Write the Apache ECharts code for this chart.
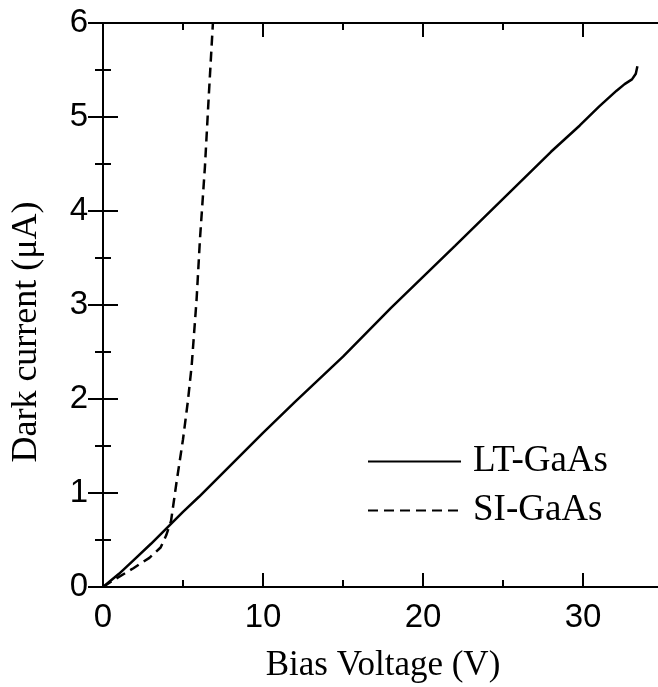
<!DOCTYPE html>
<html>
<head>
<meta charset="UTF-8">
<title>Dark current vs bias voltage</title>
<script src="https://cdn.jsdelivr.net/npm/echarts@6/dist/echarts.min.js"></script>
<style>
  body { margin: 0; background: #fff; }
  #chart { width: 658px; height: 687px; }
</style>
</head>
<body>
<div id="chart"></div>
<script>
// LT-GaAs: bias voltage (V) / dark current (uA)
const ltVolt = [0, 1, 2, 3, 4, 5, 6, 8, 10, 12, 15, 18, 20, 22, 25, 28, 29.8, 31, 32.1, 32.6, 33.06, 33.3, 33.4];
const ltCurr = [0, 0.14, 0.3, 0.46, 0.63, 0.8, 0.96, 1.3, 1.64, 1.97, 2.45, 2.97, 3.3, 3.63, 4.13, 4.63, 4.91, 5.11, 5.28, 5.35, 5.4, 5.46, 5.54];
// SI-GaAs
const siVolt = [0, 0.63, 1.9, 2.9, 3.6, 3.95, 4.25, 4.6, 5.0, 5.3, 5.54, 5.85, 6.06, 6.37, 6.6, 6.87];
const siCurr = [0, 0.07, 0.2, 0.31, 0.42, 0.55, 0.7, 1.12, 1.57, 1.97, 2.35, 3.06, 3.7, 4.47, 5.19, 6.0];

const lt = ltVolt.map((v, i) => [v, ltCurr[i]]);
const si = siVolt.map((v, i) => [v, siCurr[i]]);

const black = '#000';
const sans = 'Liberation Sans';
const serif = 'Liberation Serif';
const line = { show: true, lineStyle: { color: black, width: 2 } };
const noLine = { show: false };

function xAx(pos, interval, tickLen, extra) {
    return Object.assign({
        type: 'value', position: pos, min: 0, max: 35, interval: interval,
        axisLine: noLine, splitLine: { show: false },
        axisTick: { show: true, inside: true, length: tickLen, lineStyle: { color: black, width: 2 } },
        axisLabel: { show: false }
    }, extra || {});
}

const chart = echarts.init(document.getElementById('chart'));
chart.setOption({
    animation: false,
    backgroundColor: '#fff',
    grid: { left: 103, top: 23, right: -5, bottom: 100, containLabel: false, outerBoundsMode: 'none' },
    legend: {
        orient: 'vertical', left: 367, top: 443,
        itemWidth: 93, itemHeight: 14, itemGap: 12, padding: 0,
        data: ['LT-GaAs', 'SI-GaAs'],
        itemStyle: { opacity: 0 },
        textStyle: { fontFamily: serif, fontSize: 37, color: black, padding: [0, 0, 0, 7] }
    },
    xAxis: [
        xAx('bottom', 10, 14, {
            axisLine: line,
            axisLabel: { show: true, showMaxLabel: false, color: black, fontFamily: sans, fontSize: 33, margin: 14 },
            name: 'Bias Voltage (V)', nameLocation: 'middle', nameGap: 61,
            nameTextStyle: { fontFamily: serif, fontSize: 35, color: black }
        }),
        xAx('bottom', 5, 7),
        xAx('top', 10, 14, { axisLine: line }),
        xAx('top', 5, 7)
    ],
    yAxis: [
        {
            type: 'value', position: 'left', min: 0, max: 6, interval: 1,
            axisLine: line, splitLine: { show: false },
            axisTick: { show: true, inside: true, length: 15, lineStyle: { color: black, width: 2 } },
            minorTick: { show: true, splitNumber: 2, length: 8, lineStyle: { color: black, width: 2 } },
            axisLabel: { color: black, fontFamily: sans, fontSize: 33, margin: 15 },
            name: 'Dark current (\u03bcA)', nameLocation: 'middle', nameGap: 58,
            nameTextStyle: { fontFamily: serif, fontSize: 36, color: black, padding: [0, 54, 0, 0] }
        },
        {
            type: 'value', position: 'right', min: 0, max: 6, interval: 1,
            axisLine: line, splitLine: { show: false },
            axisTick: { show: true, inside: true, length: 15, lineStyle: { color: black, width: 2 } },
            minorTick: { show: true, splitNumber: 2, length: 8, lineStyle: { color: black, width: 2 } },
            axisLabel: { show: false }
        }
    ],
    series: [
        {
            name: 'LT-GaAs', type: 'line', data: lt, symbol: 'none',
            lineStyle: { color: black, width: 2.5 }, itemStyle: { color: black }
        },
        {
            name: 'SI-GaAs', type: 'line', data: si, symbol: 'none',
            lineStyle: { color: black, width: 2.5, type: [10, 6] }, itemStyle: { color: black }
        }
    ]
});
</script>
</body>
</html>
